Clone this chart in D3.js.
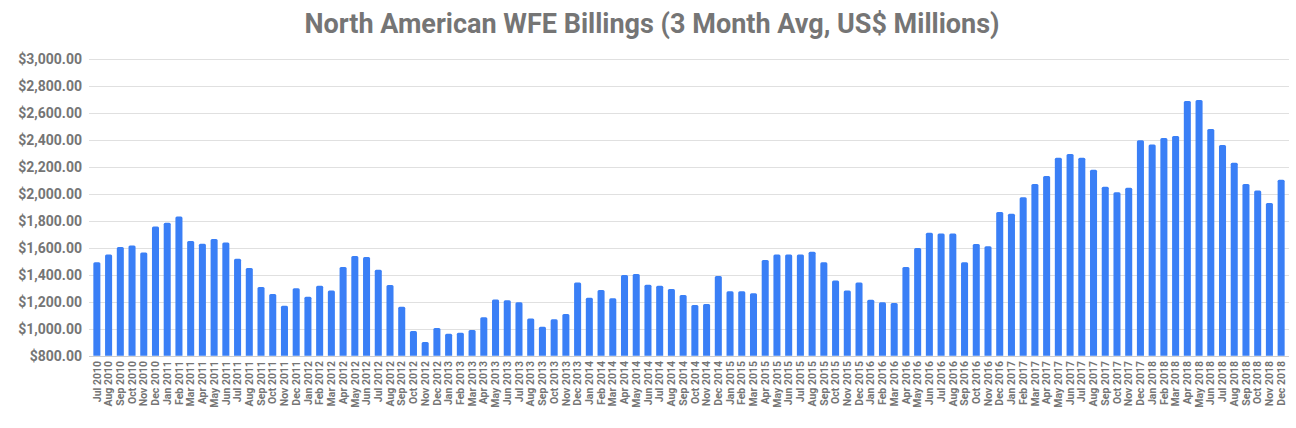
<!DOCTYPE html>
<html>
<head>
<meta charset="utf-8">
<script src="https://cdn.jsdelivr.net/npm/d3@7"></script>
<style>
  body { margin: 0; background: #fff; }
  svg { display: block; font-family: Roboto, "Noto Sans", sans-serif; }
</style>
</head>
<body>
<svg id="chart" width="1296" height="428"></svg>
<script>
const monthNames = ["Jan", "Feb", "Mar", "Apr", "May", "Jun", "Jul", "Aug", "Sep", "Oct", "Nov", "Dec"];

// Jul 2010 .. Dec 2018
const months = [];
for (let y = 2010; y <= 2018; y++) {
    for (let m = 0; m < 12; m++) {
        if (y === 2010 && m < 6) continue;
        months.push(monthNames[m] + " " + y);
    }
}

const billings = [
    1493, 1552, 1607, 1619, 1567, 1760,                                  // 2010
    1787, 1834, 1651, 1632, 1666, 1641, 1520, 1451, 1310, 1258, 1171, 1300, // 2011
    1238, 1319, 1285, 1458, 1540, 1533, 1438, 1325, 1164, 983, 901, 1005,   // 2012
    963, 971, 991, 1085, 1218, 1211, 1196, 1077, 1015, 1070, 1109, 1344,    // 2013
    1231, 1288, 1226, 1399, 1406, 1327, 1320, 1295, 1250, 1176, 1184, 1391, // 2014
    1278, 1278, 1263, 1510, 1552, 1552, 1552, 1572, 1493, 1359, 1285, 1344, // 2015
    1216, 1196, 1191, 1458, 1599, 1713, 1708, 1708, 1493, 1629, 1612, 1867, // 2016
    1854, 1976, 2074, 2134, 2270, 2297, 2270, 2181, 2055, 2013, 2047, 2399, // 2017
    2369, 2416, 2431, 2691, 2698, 2483, 2364, 2233, 2074, 2027, 1933, 2107  // 2018
];

const yTicks = [800, 1000, 1200, 1400, 1600, 1800, 2000, 2200, 2400, 2600, 2800, 3000];

const svg = d3.select("#chart");
const gray = "#757575";

const x = d3.scaleBand()
    .domain(months)
    .range([91, 1287])
    .paddingInner(0.4)
    .paddingOuter(0.2);

const y = d3.scaleLinear()
    .domain([800, 3000])
    .range([355.7, 59.4]);

// title
svg.append("text")
    .attr("x", 652)
    .attr("y", 33)
    .attr("text-anchor", "middle")
    .style("font-size", "27px")
    .style("font-weight", "bold")
    .style("fill", gray)
    .text("North American WFE Billings (3 Month Avg, US$ Millions)");

// gridlines
svg.append("g")
    .selectAll("line")
    .data(yTicks)
    .enter().append("line")
    .attr("x1", 89)
    .attr("x2", 1289)
    .attr("y1", d => Math.round(y(d)) + 0.5)
    .attr("y2", d => Math.round(y(d)) + 0.5)
    .style("stroke", d => d === 800 ? "#cfcfcf" : "#e0e0e0")
    .style("stroke-width", 1);

// y axis labels
const fmt = d3.format("$,.2f");
const yAxis = svg.append("g")
    .attr("transform", "translate(82,0)")
    .call(d3.axisLeft(y).tickValues(yTicks).tickSize(0).tickPadding(0).tickFormat(fmt));
yAxis.select(".domain").remove();
yAxis.selectAll("text")
    .style("font-family", "Roboto, sans-serif")
    .style("font-size", "14px")
    .style("font-weight", "bold")
    .style("fill", gray);

// bars with slightly rounded tops
const bw = x.bandwidth();
const r = 1.5;
svg.append("g")
    .selectAll("path")
    .data(billings)
    .enter().append("path")
    .attr("d", (d, i) => {
        const x0 = x(months[i]);
        const y0 = y(d);
        const yb = y(800);
        return `M${x0},${yb}V${y0 + r}Q${x0},${y0} ${x0 + r},${y0}H${x0 + bw - r}Q${x0 + bw},${y0} ${x0 + bw},${y0 + r}V${yb}Z`;
    })
    .style("fill", "#3a7ff6");

// x axis labels
const xAxis = svg.append("g")
    .attr("transform", "translate(0,356)")
    .call(d3.axisBottom(x).tickSize(0).tickPadding(0));
xAxis.select(".domain").remove();
xAxis.selectAll("text")
    .attr("transform", "rotate(-90)")
    .attr("text-anchor", "end")
    .attr("x", -5)
    .attr("y", 0)
    .attr("dy", "0.35em")
    .style("font-family", "Roboto, sans-serif")
    .style("font-size", "10.5px")
    .style("font-weight", "bold")
    .style("fill", gray);
</script>
</body>
</html>
